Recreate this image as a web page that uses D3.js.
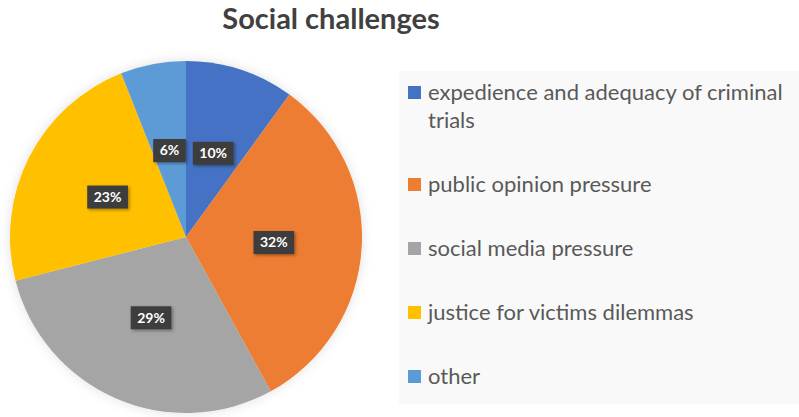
<!DOCTYPE html>
<html><head><meta charset="utf-8">
<script src="https://cdn.jsdelivr.net/npm/d3@7"></script>
<style>body{margin:0;background:#fff;}svg{display:block;}</style>
</head><body>
<script>
const categories = ["expedience and adequacy of criminal trials", "public opinion pressure", "social media pressure", "justice for victims dilemmas", "other"];
const legendLines = [["expedience and adequacy of criminal", "trials"], ["public opinion pressure"], ["social media pressure"], ["justice for victims dilemmas"], ["other"]];
const values = [10, 32, 29, 23, 6];
const labels = ["10%", "32%", "29%", "23%", "6%"];
const colors = ["#4472C4", "#ED7D31", "#A5A5A5", "#FFC000", "#5B9BD5"];
const title = "Social challenges";

const W = 799, H = 417;
const svg = d3.select("body").append("svg").attr("width", W).attr("height", H);
const defs = svg.append("defs");
const f = defs.append("filter").attr("id", "glow").attr("x", "-20%").attr("y", "-20%").attr("width", "140%").attr("height", "140%");
f.append("feDropShadow").attr("dx", 0).attr("dy", 0).attr("stdDeviation", 6).attr("flood-color", "#000").attr("flood-opacity", 0.12);
const f2 = defs.append("filter").attr("id", "lshadow").attr("x", "-30%").attr("y", "-30%").attr("width", "160%").attr("height", "160%");
f2.append("feDropShadow").attr("dx", 1.5).attr("dy", 1.5).attr("stdDeviation", 1.5).attr("flood-color", "#000").attr("flood-opacity", 0.35);

svg.append("text").attr("x", 331).attr("y", 29).attr("text-anchor", "middle")
  .attr("font-family", "Lato, sans-serif").attr("font-weight", "bold").attr("font-size", 29)
  .attr("fill", "#404040").text(title);

const cx = 186, cy = 237, R = 176;
const pie = d3.pie().sort(null).value(d => d)(values);
const arc = d3.arc().innerRadius(0).outerRadius(R);
const labelArc = d3.arc().innerRadius(R * 0.5).outerRadius(R * 0.5);
const g = svg.append("g").attr("transform", `translate(${cx},${cy})`);
g.append("g").attr("filter", "url(#glow)").selectAll("path").data(pie).join("path")
  .attr("d", arc).attr("fill", (d, i) => colors[i]);

const lg = g.selectAll("g.lab").data(pie).join("g").attr("class", "lab")
  .attr("transform", d => `translate(${labelArc.centroid(d)})`);
lg.each(function(d, i) {
  const s = d3.select(this);
  const t = s.append("text").attr("text-anchor", "middle").attr("dy", "0.35em")
    .attr("font-family", "Lato, sans-serif").attr("font-weight", "bold").attr("font-size", 14)
    .attr("fill", "#fff").text(labels[i]);
  const w = t.node().getComputedTextLength() + 13;
  s.insert("rect", "text").attr("x", -w / 2).attr("y", -11.5).attr("width", w).attr("height", 23)
    .attr("fill", "#3d3d3d").attr("filter", "url(#lshadow)");
});

// legend
const lx = 399, ly = 71;
svg.append("rect").attr("x", lx).attr("y", ly).attr("width", W - lx).attr("height", 333).attr("fill", "#f9f9f9");
const lineH = 28, step = 64;
let base = 100;
categories.forEach((c, i) => {
  const gi = svg.append("g");
  gi.append("rect").attr("x", 408).attr("y", base - 14).attr("width", 13).attr("height", 13).attr("fill", colors[i]);
  const t = gi.append("text").attr("font-family", "Lato, sans-serif").attr("font-size", 22).attr("fill", "#595959");
  legendLines[i].forEach((ln, k) => {
    t.append("tspan").attr("x", 428).attr("y", base + k * lineH).text(ln);
  });
  base += step + (legendLines[i].length - 1) * lineH;
});
</script>
</body></html>
